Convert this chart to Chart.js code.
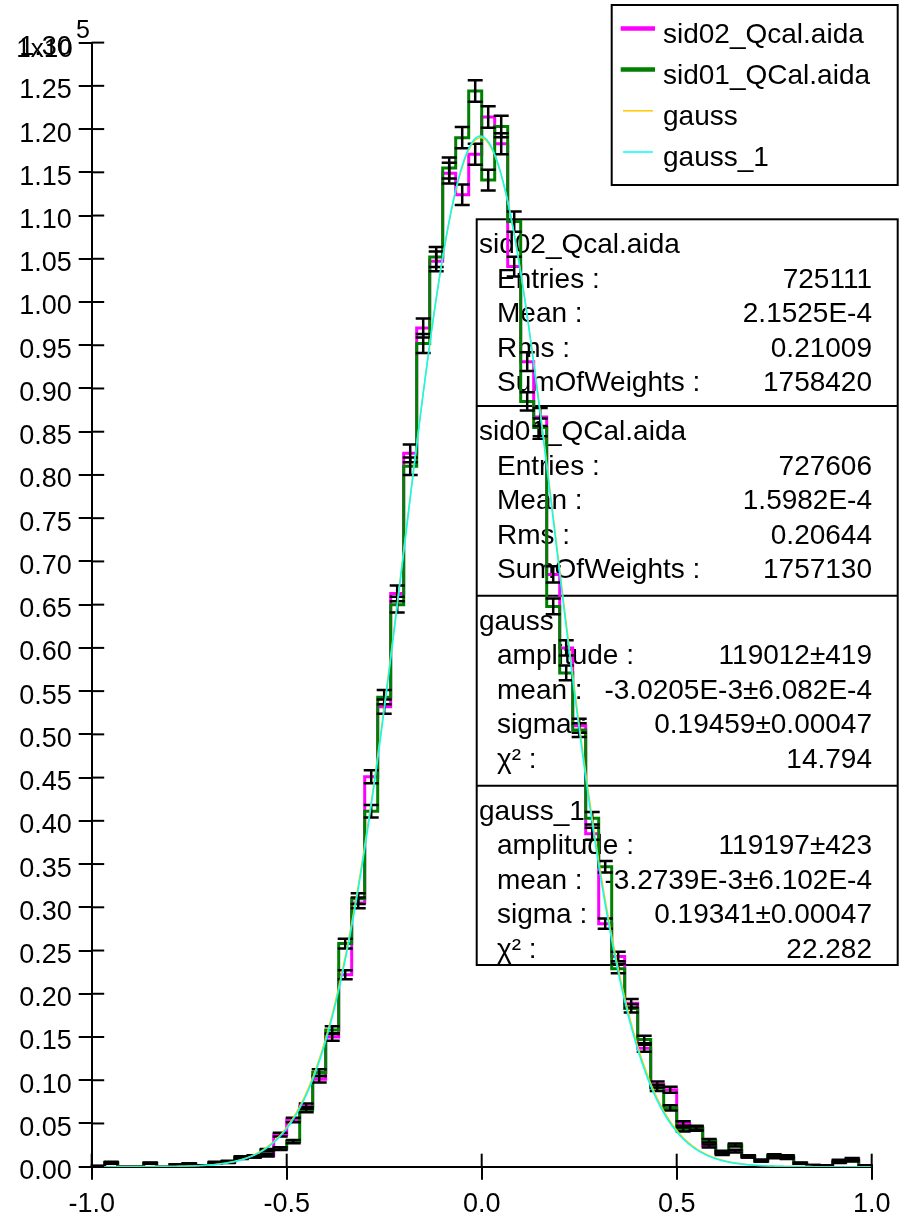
<!DOCTYPE html>
<html>
<head>
<meta charset="utf-8">
<script src="https://cdn.jsdelivr.net/npm/chart.js@4.4.1/dist/chart.umd.min.js"></script>
<style>
html,body{margin:0;padding:0;background:#fff;}
canvas{display:block;}
</style>
</head>
<body>
<canvas id="c" width="905" height="1217"></canvas>
<script>
// ---------------- DATA ----------------
const binRange = [-1, 1];
const binCount = 60;
// sid02_Qcal.aida (magenta) bin contents
const sid02Values = [50,400,0,0,400,0,200,300,100,500,500,1000,1200,1300,3700,5400,7000,10100,15000,22200,
  30500,45100,53200,66300,82500,97000,104700,114900,112400,117100,121400,118300,104100,93100,86700,68500,60000,51000,38500,28100,
  24300,18900,13700,9500,8900,5000,4400,2400,1500,1800,1200,700,1100,1000,400,150,100,700,900,100];
const sid02Errors = [25,71,0,0,71,0,50,62,36,79,79,112,123,128,216,261,297,357,435,529,
  620,754,819,914,1020,1106,1149,1204,1191,1215,1237,1221,1146,1084,1046,929,870,802,697,595,
  554,488,416,346,335,251,236,174,138,151,123,94,118,112,71,43,36,94,107,36];
// sid01_QCal.aida (green) bin contents
const sid01Values = [50,500,0,0,400,0,200,300,100,400,600,1100,1200,1900,2100,2900,6600,10900,15800,25800,
  31000,41100,54300,65000,81000,95200,105200,115500,119000,124400,114100,120300,109300,88500,85500,64800,57100,50500,40300,34700,
  22900,18300,14700,9100,6800,4300,4500,3000,1700,2500,1200,700,1300,1200,400,150,100,500,700,100];
const sid01Errors = [25,79,0,0,71,0,50,62,36,71,87,118,123,155,163,191,289,371,446,570,
  625,720,828,905,1011,1096,1152,1207,1225,1252,1200,1232,1174,1056,1038,904,849,798,713,662,
  537,480,431,339,293,233,238,195,146,178,123,94,128,123,71,43,36,79,94,36];
// fit parameters [amplitude, mean, sigma]
const gaussParams = [119012, -3.0205e-3, 0.19459];
const gauss1Params = [119197, -3.2739e-3, 0.19341];
const xTicks = [-1.0, -0.5, 0.0, 0.5, 1.0];
const yTickStep = 5000;
const yMax = 130000;

const legendItems = ['sid02_Qcal.aida', 'sid01_QCal.aida', 'gauss', 'gauss_1'];
const statsTitles = ['sid02_Qcal.aida', 'sid01_QCal.aida', 'gauss', 'gauss_1'];
const statsLabels = [
  ['Entries :', 'Mean :', 'Rms :', 'SumOfWeights :'],
  ['Entries :', 'Mean :', 'Rms :', 'SumOfWeights :'],
  ['amplitude :', 'mean :', 'sigma :', 'χ² :'],
  ['amplitude :', 'mean :', 'sigma :', 'χ² :']
];
const statsValues = [
  ['725111', '2.1525E-4', '0.21009', '1758420'],
  ['727606', '1.5982E-4', '0.20644', '1757130'],
  ['119012±419', '-3.0205E-3±6.082E-4', '0.19459±0.00047', '14.794'],
  ['119197±423', '-3.2739E-3±6.102E-4', '0.19341±0.00047', '22.282']
];

// ---------------- BUILD ----------------
const FONT = '"Liberation Sans", Arial, Helvetica, sans-serif';
const binWidth = (binRange[1] - binRange[0]) / binCount;
const edges = [];
for (let i = 0; i <= binCount; i++) edges.push(binRange[0] + i * binWidth);
function stepData(vals) {
  return edges.map((e, i) => ({ x: e, y: vals[Math.min(i, vals.length - 1)] }));
}
function gaussCurve(p) {
  const pts = [];
  for (let i = 0; i <= 400; i++) {
    const x = binRange[0] + i * (binRange[1] - binRange[0]) / 400;
    pts.push({ x: x, y: p[0] * Math.exp(-0.5 * Math.pow((x - p[1]) / p[2], 2)) });
  }
  return pts;
}

const colors = ['#ff00ff', '#008000', '#ffc800', '#00ffff'];

const styleCfg = {
  legendBox: { l: 611.7, t: 5, r: 897.7, b: 185 },
  legendFirstBaseline: 42.7, legendRowStep: 41.2,
  statsBox: { l: 476.7, r: 897.7 },
  statsTops: [219.3, 406, 595.7, 785.7, 965],
  titleX: 479, labelX: 497, valueX: 872
};

const boxesPlugin = {
  id: 'boxes',
  beforeDatasetsDraw(chart) {
    const ctx = chart.ctx;
    ctx.save();
    ctx.strokeStyle = '#000';
    ctx.lineWidth = 2;
    const sb = styleCfg.statsBox, tops = styleCfg.statsTops;
    ctx.strokeRect(sb.l, tops[0], sb.r - sb.l, tops[4] - tops[0]);
    for (let k = 1; k < 4; k++) {
      ctx.beginPath(); ctx.moveTo(sb.l, tops[k]); ctx.lineTo(sb.r, tops[k]); ctx.stroke();
    }
    ctx.fillStyle = '#000';
    ctx.font = '28px ' + FONT;
    ctx.textBaseline = 'alphabetic';
    for (let k = 0; k < 4; k++) {
      const base = tops[k] + 34;
      ctx.textAlign = 'left';
      ctx.fillText(statsTitles[k], styleCfg.titleX, base);
      for (let r = 0; r < 4; r++) {
        const y = base + 34.5 * (r + 1);
        ctx.textAlign = 'left';
        ctx.fillText(statsLabels[k][r], styleCfg.labelX, y);
        ctx.textAlign = 'right';
        ctx.fillText(statsValues[k][r], styleCfg.valueX, y);
      }
    }
    ctx.restore();
  },
  afterDatasetDraw(chart, args) {
    if (args.meta.label !== 'sid01_QCal.aida') return;
    const ctx = chart.ctx, xs = chart.scales.x, ys = chart.scales.y;
    ctx.save();
    ctx.strokeStyle = '#000';
    ctx.lineWidth = 2.5;
    [[sid02Values, sid02Errors], [sid01Values, sid01Errors]].forEach(([v, e]) => {
      for (let i = 0; i < v.length; i++) {
        if (v[i] <= 0) continue;
        const cx = xs.getPixelForValue(edges[i] + binWidth / 2);
        const y1 = ys.getPixelForValue(v[i] - e[i]);
        const y2 = ys.getPixelForValue(v[i] + e[i]);
        ctx.beginPath();
        ctx.moveTo(cx, y1); ctx.lineTo(cx, y2);
        ctx.moveTo(cx - 7.5, y1); ctx.lineTo(cx + 7.5, y1);
        ctx.moveTo(cx - 7.5, y2); ctx.lineTo(cx + 7.5, y2);
        ctx.stroke();
      }
    });
    ctx.restore();
  },
  afterDraw(chart) {
    const ctx = chart.ctx, xs = chart.scales.x, ys = chart.scales.y;
    const ca = chart.chartArea;
    ctx.save();
    ctx.strokeStyle = '#000';
    ctx.lineWidth = 2;
    // inner halves of the crossing tick marks
    ys.ticks.forEach((t, i) => {
      const y = ys.getPixelForTick(i);
      ctx.beginPath(); ctx.moveTo(ca.left, y); ctx.lineTo(ca.left + 12.5, y); ctx.stroke();
    });
    xs.ticks.forEach((t, i) => {
      const x = xs.getPixelForTick(i);
      ctx.beginPath(); ctx.moveTo(x, ca.bottom); ctx.lineTo(x, ca.bottom - 13); ctx.stroke();
    });
    // exponent label
    ctx.fillStyle = '#000';
    ctx.font = '26px ' + FONT;
    ctx.textAlign = 'right';
    ctx.textBaseline = 'alphabetic';
    ctx.fillText('1x10', 72.7, 56.7);
    ctx.textAlign = 'left';
    ctx.font = '25px ' + FONT;
    ctx.fillText('5', 76, 38.3);
    // legend
    const lb = styleCfg.legendBox;
    ctx.strokeRect(lb.l, lb.t, lb.r - lb.l, lb.b - lb.t);
    ctx.font = '28px ' + FONT;
    legendItems.forEach((name, k) => {
      const base = styleCfg.legendFirstBaseline + styleCfg.legendRowStep * k;
      const ly = base - 14.3;
      ctx.strokeStyle = colors[k];
      ctx.lineWidth = k < 2 ? 4.5 : 1.5;
      ctx.beginPath();
      if (k < 2) { ctx.moveTo(620.7, ly); ctx.lineTo(655, ly); }
      else { ctx.moveTo(623, ly); ctx.lineTo(653, ly); }
      ctx.stroke();
      ctx.fillStyle = '#000';
      ctx.textAlign = 'left';
      ctx.fillText(name, 663, base);
    });
    ctx.restore();
  }
};

new Chart(document.getElementById('c'), {
  type: 'line',
  data: {
    datasets: [
      { label: 'sid02_Qcal.aida', data: stepData(sid02Values), stepped: 'before', borderColor: colors[0], borderWidth: 3, pointRadius: 0, fill: false, order: 3 },
      { label: 'sid01_QCal.aida', data: stepData(sid01Values), stepped: 'before', borderColor: colors[1], borderWidth: 3, pointRadius: 0, fill: false, order: 2 },
      { label: 'gauss', data: gaussCurve(gaussParams), borderColor: colors[2], borderWidth: 1.5, pointRadius: 0, fill: false, tension: 0, order: 1 },
      { label: 'gauss_1', data: gaussCurve(gauss1Params), borderColor: colors[3], borderWidth: 1.5, pointRadius: 0, fill: false, tension: 0, order: 0 }
    ]
  },
  options: {
    responsive: false,
    animation: false,
    devicePixelRatio: 1,
    layout: { padding: { top: 42.6, right: 33.3, left: 0, bottom: 0 } },
    plugins: { legend: { display: false }, tooltip: { enabled: false } },
    scales: {
      x: {
        type: 'linear', min: binRange[0], max: binRange[1],
        afterBuildTicks: s => { s.ticks = xTicks.map(v => ({ value: v })); },
        ticks: { callback: v => Number(v).toFixed(1), font: { family: FONT, size: 27 }, color: '#000', padding: 9, maxRotation: 0, autoSkip: false },
        grid: { drawOnChartArea: false, drawTicks: true, tickLength: 13, color: '#000', lineWidth: 2 },
        border: { display: true, color: '#000', width: 2 },
        afterFit: s => { s.height = 50.3; }
      },
      y: {
        type: 'linear', min: 0, max: yMax,
        ticks: { stepSize: yTickStep, callback: v => (v / 1e5).toFixed(2), font: { family: FONT, size: 27 }, color: '#000', padding: 7, labelOffset: 5, autoSkip: false },
        grid: { drawOnChartArea: false, drawTicks: true, tickLength: 13, color: '#000', lineWidth: 2 },
        border: { display: true, color: '#000', width: 2 },
        afterFit: s => { s.width = 91.7; }
      }
    }
  },
  plugins: [boxesPlugin]
});
</script>
</body>
</html>
